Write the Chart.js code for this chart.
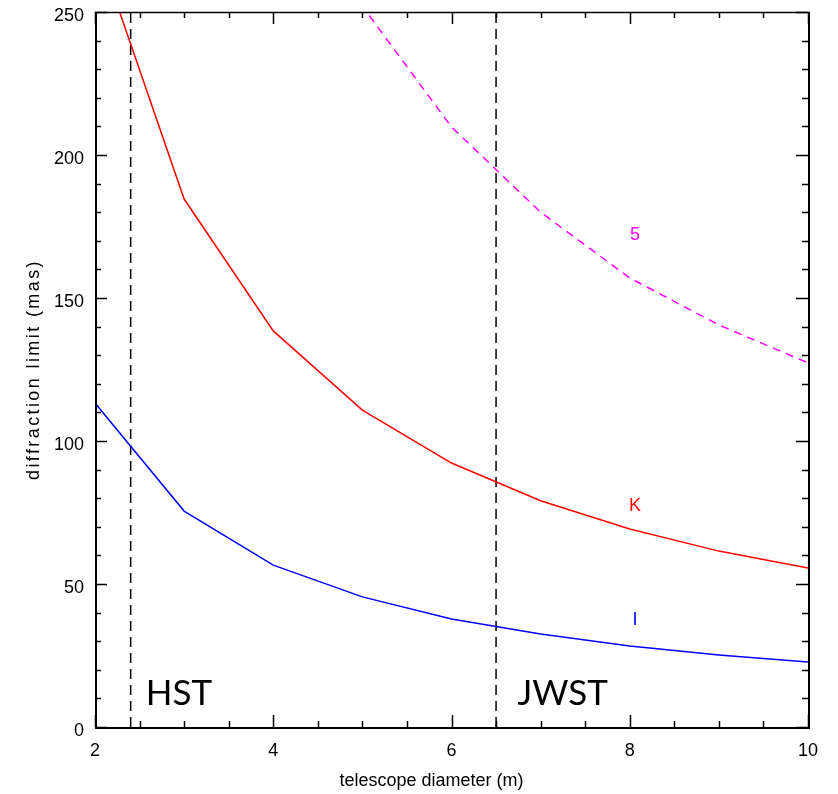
<!DOCTYPE html>
<html>
<head>
<meta charset="utf-8">
<script src="https://cdn.jsdelivr.net/npm/chart.js@4/dist/chart.umd.min.js"></script>
<style>
  html, body { margin: 0; padding: 0; background: #fff; }
  #wrap { position: relative; width: 838px; height: 794px; }
</style>
</head>
<body>
<div id="wrap"><canvas id="myChart"></canvas></div>
<script>
// data
const diameters = [2, 3, 4, 5, 6, 7, 8, 9, 10];
const limitI = [113.3, 75.5, 56.6, 45.5, 37.8, 32.5, 28.3, 25.2, 22.7];
const limitK = [275, 184.6, 138.5, 110.8, 92.3, 79.1, 69.2, 61.5, 55.6];
const limit5 = [null, null, 314, 252, 209.8, 180, 157, 140.6, 127.3];

const bandNames = ['I', 'K', '5'];
const bandLabelY = [37.4, 77.3, 172];
const bandLabelX = 8.06;

const telescopeX = [2.4, 6.5];
const telescopeNames = ['HST', 'JWST'];
const telescopeLabelX = [2.57, 6.74];

const xTicks = [2, 4, 6, 8, 10];
const yTicks = [0, 50, 100, 150, 200, 250];

const colors = ['#0000ff', '#ff0000', '#ff00ff'];
const FONT = "'Liberation Sans', Arial, sans-serif";

const points = vals => diameters.map((d, i) => ({ x: d, y: vals[i] }));

// frame, inward ticks, titles and text labels
const decorations = {
    id: 'decorations',
    afterDatasetsDraw(chart) {
        const { ctx, chartArea: a, scales: { x, y } } = chart;
        ctx.save();
        ctx.strokeStyle = '#000';
        ctx.lineCap = 'butt';

        // minor + major ticks
        ctx.lineWidth = 1.5;
        for (let v = 2; v <= 10.001; v += 0.5) {
            const px = Math.round(x.getPixelForValue(v)) + 0.5;
            const len = xTicks.includes(v) ? 12 : 6;
            ctx.beginPath();
            ctx.moveTo(px, a.bottom); ctx.lineTo(px, a.bottom - len);
            ctx.moveTo(px, a.top); ctx.lineTo(px, a.top + len);
            ctx.stroke();
        }
        for (let v = 0; v <= 250; v += 10) {
            const py = Math.round(y.getPixelForValue(v)) + 0.5;
            const len = v % 50 === 0 ? 12 : 6;
            ctx.beginPath();
            ctx.moveTo(a.left, py); ctx.lineTo(a.left + len, py);
            ctx.moveTo(a.right, py); ctx.lineTo(a.right - len, py);
            ctx.stroke();
        }

        // box
        ctx.lineWidth = 2;
        ctx.beginPath();
        ctx.moveTo(a.left + 1, a.top); ctx.lineTo(a.left + 1, a.bottom + 1);
        ctx.lineTo(a.right + 1, a.bottom + 1); ctx.lineTo(a.right + 1, a.top);
        ctx.stroke();
        ctx.lineWidth = 1.5;
        ctx.beginPath();
        ctx.moveTo(a.left, a.top + 0.5); ctx.lineTo(a.right + 2, a.top + 0.5);
        ctx.stroke();

        // band labels
        ctx.font = '18px ' + FONT;
        ctx.textAlign = 'center';
        ctx.textBaseline = 'middle';
        bandNames.forEach((n, i) => {
            ctx.fillStyle = colors[i];
            ctx.fillText(n, x.getPixelForValue(bandLabelX), y.getPixelForValue(bandLabelY[i]));
        });

        // telescope labels
        ctx.fillStyle = '#000';
        ctx.font = "35px Lato, 'Open Sans', sans-serif";
        ctx.textAlign = 'left';
        ctx.textBaseline = 'alphabetic';
        telescopeNames.forEach((n, i) => {
            ctx.fillText(n, x.getPixelForValue(telescopeLabelX[i]), y.getPixelForValue(7.7));
        });

        // axis titles
        ctx.font = '18px ' + FONT;
        ctx.textAlign = 'center';
        ctx.textBaseline = 'middle';
        ctx.fillText('telescope diameter (m)', (a.left + a.right) / 2 - 20, 781);
        ctx.save();
        ctx.translate(34, (a.top + a.bottom) / 2);
        ctx.rotate(-Math.PI / 2);
        ctx.letterSpacing = '2.4px';
        ctx.fillText('diffraction limit (mas)', 0, 0);
        ctx.restore();

        ctx.restore();
    }
};

const datasets = [
    { data: points(limitI), borderColor: colors[0], borderWidth: 1.5 },
    { data: points(limitK), borderColor: colors[1], borderWidth: 1.5 },
    { data: points(limit5), borderColor: colors[2], borderWidth: 1.5, borderDash: [8, 6] }
];
telescopeX.forEach(tx => {
    datasets.push({
        data: [{ x: tx, y: 0 }, { x: tx, y: 250 }],
        borderColor: '#000', borderWidth: 1.5, borderDash: [10, 6]
    });
});

new Chart(document.getElementById('myChart').getContext('2d'), {
    type: 'line',
    data: { datasets },
    options: {
        responsive: true,
        maintainAspectRatio: false,
        animation: false,
        layout: { padding: { top: 12, right: 30, left: 0, bottom: 0 } },
        elements: { point: { radius: 0 }, line: { tension: 0 } },
        plugins: { legend: { display: false }, tooltip: { enabled: false } },
        scales: {
            x: {
                type: 'linear', min: 2, max: 10,
                afterFit: s => { s.height = 67; s.paddingLeft = 0; s.paddingRight = 0; },
                afterBuildTicks: s => { s.ticks = xTicks.map(v => ({ value: v })); },
                grid: { display: false, drawTicks: false },
                border: { display: false },
                ticks: { padding: 13, color: '#000', font: { family: FONT, size: 18 } }
            },
            y: {
                min: 0, max: 250,
                afterFit: s => { s.width = 95; s.paddingTop = 0; s.paddingBottom = 0; },
                afterBuildTicks: s => { s.ticks = yTicks.map(v => ({ value: v })); },
                grid: { display: false, drawTicks: false },
                border: { display: false },
                ticks: { padding: 11, labelOffset: 4, color: '#000', font: { family: FONT, size: 18 } }
            }
        }
    },
    plugins: [decorations]
});
</script>
</body>
</html>
